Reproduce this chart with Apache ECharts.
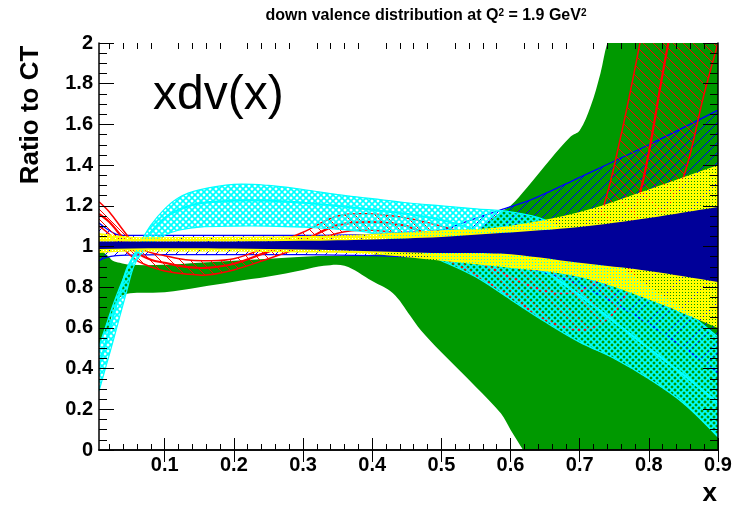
<!DOCTYPE html>
<html>
<head>
<meta charset="utf-8">
<script src="https://cdn.jsdelivr.net/npm/echarts@6/dist/echarts.min.js"></script>
<style>
  html, body { margin: 0; padding: 0; background: #fff; }
  #c { width: 736px; height: 505px; }
</style>
</head>
<body>
<div id="c"></div>
<script>
const FONT = '"Liberation Sans", Arial, Helvetica, sans-serif';

// ---- axis ticks ----
const xMajorTicks = [0.1, 0.2, 0.3, 0.4, 0.5, 0.6, 0.7, 0.8, 0.9];
const xMinorTicks = [0.02, 0.04, 0.06, 0.08, 0.12, 0.14, 0.16, 0.18, 0.22, 0.24, 0.26, 0.28,
  0.32, 0.34, 0.36, 0.38, 0.42, 0.44, 0.46, 0.48, 0.52, 0.54, 0.56, 0.58,
  0.62, 0.64, 0.66, 0.68, 0.72, 0.74, 0.76, 0.78, 0.82, 0.84, 0.86, 0.88];

// ---- green band ----
const greenX  = [0.005, 0.012, 0.019, 0.025, 0.035, 0.05, 0.1, 0.15, 0.2, 0.25, 0.3, 0.33, 0.36, 0.4, 0.43, 0.455, 0.47, 0.5, 0.55, 0.586, 0.6, 0.624, 0.658, 0.687, 0.7, 0.716, 0.73, 0.74, 0.8, 0.9];
const greenLo = [0.5, 0.57, 0.6, 0.68, 0.75, 0.77, 0.775, 0.8, 0.827, 0.852, 0.885, 0.905, 0.905, 0.83, 0.77, 0.66, 0.59, 0.48, 0.31, 0.18, 0.1, -0.03, -0.2, -0.33, -0.38, -0.45, -0.5, -0.55, -0.8, -1.0];
const greenHi = [1.0, 0.97, 0.95, 0.93, 0.92, 0.91, 0.91, 0.92, 0.93, 0.94, 0.95, 0.953, 0.955, 0.96, 0.97, 0.98, 0.99, 1.02, 1.08, 1.17, 1.2, 1.29, 1.43, 1.54, 1.57, 1.69, 1.85, 2.0, 2.6, 3.0];

// ---- blue hatched band ----
const blueX   = [0.005, 0.015, 0.03, 0.05, 0.1, 0.2, 0.3, 0.4, 0.45, 0.5, 0.53, 0.586, 0.63, 0.7, 0.8, 0.9];
const blueHi  = [1.115, 1.09, 1.06, 1.055, 1.055, 1.055, 1.055, 1.06, 1.07, 1.08, 1.115, 1.18, 1.23, 1.34, 1.5, 1.67];
const blueMid = [1.02, 1.012, 1.006, 1.005, 1.005, 1.005, 1.005, 1.007, 1.01, 1.012, 1.02, 1.04, 1.06, 1.07, 1.06, 1.03];
const blueLo  = [0.93, 0.945, 0.955, 0.958, 0.96, 0.96, 0.96, 0.955, 0.95, 0.945, 0.935, 0.915, 0.89, 0.81, 0.62, 0.38];

// ---- red hatched band ----
const redX   = [0.005, 0.02, 0.04, 0.06, 0.08, 0.1, 0.13, 0.16, 0.2, 0.25, 0.3, 0.35, 0.4, 0.45, 0.5, 0.55, 0.6, 0.65, 0.7, 0.73, 0.76, 0.79, 0.82, 0.85, 0.88, 0.9];
const redHi  = [1.22, 1.17, 1.08, 1.0, 0.97, 0.955, 0.935, 0.93, 0.94, 1.0, 1.07, 1.15, 1.16, 1.14, 1.1, 1.05, 1.0, 0.95, 0.98, 1.15, 1.55, 2.05, 2.6, 3.0, 3.5, 4.0];
const redMid = [1.16, 1.12, 1.04, 0.97, 0.935, 0.92, 0.9, 0.895, 0.915, 0.975, 1.03, 1.105, 1.12, 1.1, 1.02, 0.93, 0.85, 0.78, 0.78, 0.85, 1.0, 1.3, 1.85, 2.4, 2.9, 3.3];
const redLo  = [1.10, 1.06, 0.99, 0.93, 0.90, 0.88, 0.865, 0.86, 0.885, 0.94, 1.0, 1.065, 1.08, 1.05, 0.95, 0.86, 0.755, 0.64, 0.59, 0.62, 0.72, 0.95, 1.15, 1.34, 1.75, 2.0];

// ---- cyan cross-hatched band ----
const cyanX   = [0.005, 0.015, 0.025, 0.035, 0.045, 0.055, 0.065, 0.08, 0.1, 0.12, 0.15, 0.2, 0.25, 0.3, 0.35, 0.4, 0.45, 0.5, 0.55, 0.6, 0.65, 0.7, 0.75, 0.8, 0.85, 0.9];
const cyanHi  = [0.51, 0.61, 0.71, 0.80, 0.88, 0.955, 1.02, 1.105, 1.185, 1.24, 1.278, 1.305, 1.3, 1.28, 1.255, 1.235, 1.215, 1.2, 1.185, 1.17, 1.13, 1.03, 0.92, 0.8, 0.69, 0.555];
const cyanMid = [0.41, 0.53, 0.65, 0.77, 0.885, 0.95, 0.995, 1.07, 1.14, 1.18, 1.212, 1.225, 1.225, 1.215, 1.2, 1.18, 1.16, 1.13, 1.08, 1.0, 0.88, 0.76, 0.63, 0.5, 0.37, 0.23];
const cyanLo  = [0.29, 0.41, 0.53, 0.655, 0.78, 0.9, 0.96, 1.01, 1.055, 1.08, 1.095, 1.1, 1.1, 1.095, 1.085, 1.065, 1.0, 0.93, 0.85, 0.74, 0.63, 0.53, 0.45, 0.35, 0.23, 0.064];

// ---- yellow dotted band ----
const yellowX  = [0.005, 0.05, 0.1, 0.2, 0.3, 0.4, 0.5, 0.586, 0.7, 0.8, 0.9];
const yellowHi = [1.066, 1.048, 1.046, 1.048, 1.052, 1.062, 1.08, 1.096, 1.17, 1.28, 1.40];
const yellowLo = [0.968, 0.975, 0.975, 0.975, 0.97, 0.962, 0.93, 0.9, 0.85, 0.74, 0.6];

// ---- navy band ----
const navyX  = [0.005, 0.1, 0.2, 0.3, 0.4, 0.5, 0.586, 0.7, 0.8, 0.9];
const navyHi = [1.025, 1.024, 1.025, 1.028, 1.035, 1.047, 1.066, 1.096, 1.14, 1.194];
const navyLo = [0.988, 0.991, 0.99, 0.985, 0.977, 0.968, 0.965, 0.92, 0.88, 0.826];

// ---- fill patterns ----
function hatch(color, size, dirs, lw) {
  const c = document.createElement('canvas');
  c.width = c.height = size;
  const g = c.getContext('2d');
  g.strokeStyle = color;
  g.lineWidth = lw;
  g.beginPath();
  dirs.forEach(function (d) {
    for (let k = -1; k <= 1; k++) {
      if (d === '/') { g.moveTo(k * size, size); g.lineTo(k * size + size, 0); }
      else { g.moveTo(k * size, 0); g.lineTo(k * size + size, size); }
    }
  });
  g.stroke();
  return { image: c, repeat: 'repeat' };
}
function dots(color) {
  const c = document.createElement('canvas');
  c.width = c.height = 3;
  const g = c.getContext('2d');
  g.fillStyle = color;
  g.fillRect(0, 0, 3, 3);
  g.clearRect(1, 1, 1, 1);
  return { image: c, repeat: 'repeat' };
}

const GREEN = '#009900', NAVY = '#000099', CYAN = '#00ffff', RED = '#ff0000', BLUE = '#0000ff', YELLOW = '#ffff00';

function band(xs, lo, hi, fill, lines) {
  return {
    type: 'custom',
    xAxisIndex: 0, yAxisIndex: 0,
    silent: true,
    clip: true,
    data: [[0.45, 1]],
    renderItem: function (params, api) {
      const cs = params.coordSys;
      const n = xs.length;
      const up = xs.map(function (x, i) { return api.coord([x, hi[i]]); });
      const dn = xs.map(function (x, i) { return api.coord([x, lo[i]]); });
      const pts = [up[0]].concat(up, [up[n - 1], dn[n - 1]], dn.slice().reverse(), [dn[0]]);
      const children = [{
        type: 'polygon',
        shape: { points: pts, smooth: 0.35 },
        style: { fill: fill, stroke: null }
      }];
      lines.forEach(function (l) {
        children.push({
          type: 'polyline',
          shape: { points: xs.map(function (x, i) { return api.coord([x, l.ys[i]]); }), smooth: 0.35 },
          style: { stroke: l.color, lineWidth: l.width, fill: null }
        });
      });
      return {
        type: 'group',
        clipPath: { type: 'rect', shape: { x: cs.x, y: cs.y, width: cs.width, height: cs.height } },
        children: children
      };
    }
  };
}

const series = [
  band(greenX, greenLo, greenHi, GREEN, []),
  band(blueX, blueLo, blueHi, hatch(BLUE, 10, ['/'], 1), [
    { ys: blueLo, color: BLUE, width: 1.3 },
    { ys: blueHi, color: BLUE, width: 1.3 },
    { ys: blueMid, color: BLUE, width: 1.5 }
  ]),
  band(redX, redLo, redHi, hatch(RED, 10, ['\\'], 1), [
    { ys: redLo, color: RED, width: 1.5 },
    { ys: redHi, color: RED, width: 1.5 },
    { ys: redMid, color: RED, width: 2.2 }
  ]),
  band(cyanX, cyanLo, cyanHi, hatch(CYAN, 6, ['/', '\\'], 1.7), [
    { ys: cyanLo, color: CYAN, width: 1.2 },
    { ys: cyanHi, color: CYAN, width: 1.2 },
    { ys: cyanMid, color: CYAN, width: 2.2 }
  ]),
  band(yellowX, yellowLo, yellowHi, dots(YELLOW), []),
  band(navyX, navyLo, navyHi, NAVY, [])
];

const gridRect = { left: 99, top: 43, width: 619, height: 407 };
const tickLine = { color: '#000', width: 1 };
const frameLine = { show: true, lineStyle: { color: '#000', width: 1.5 } };

const option = {
  animation: false,
  backgroundColor: '#fff',
  grid: [Object.assign({}, gridRect), Object.assign({}, gridRect)],
  xAxis: [
    { gridIndex: 0, type: 'value', min: 0.005, max: 0.9, position: 'bottom', z: 10,
      axisLine: frameLine, splitLine: { show: false },
      axisTick: { show: true, inside: true, length: 12, customValues: xMajorTicks, lineStyle: tickLine },
      axisLabel: { show: true, customValues: xMajorTicks, margin: 5, color: '#000',
        fontFamily: FONT, fontWeight: 'bold', fontSize: 20 } },
    { gridIndex: 0, type: 'value', min: 0.005, max: 0.9, position: 'top', z: 10,
      axisLine: frameLine, splitLine: { show: false },
      axisTick: { show: true, inside: true, length: 12, customValues: xMajorTicks, lineStyle: tickLine },
      axisLabel: { show: false } },
    { gridIndex: 1, type: 'value', min: 0.005, max: 0.9, position: 'bottom', z: 10,
      axisLine: { show: false }, splitLine: { show: false },
      axisTick: { show: true, inside: true, length: 6, customValues: xMinorTicks, lineStyle: tickLine },
      axisLabel: { show: false } },
    { gridIndex: 1, type: 'value', min: 0.005, max: 0.9, position: 'top', z: 10,
      axisLine: { show: false }, splitLine: { show: false },
      axisTick: { show: true, inside: true, length: 6, customValues: xMinorTicks, lineStyle: tickLine },
      axisLabel: { show: false } }
  ],
  yAxis: [
    { gridIndex: 0, type: 'value', min: 0, max: 2, interval: 0.2, position: 'left', z: 10,
      axisLine: frameLine, splitLine: { show: false },
      axisTick: { show: true, inside: true, length: 15, lineStyle: tickLine },
      minorTick: { show: true, splitNumber: 4, length: 8, lineStyle: tickLine },
      axisLabel: { show: true, margin: 6, color: '#000', fontFamily: FONT, fontWeight: 'bold', fontSize: 20 } },
    { gridIndex: 0, type: 'value', min: 0, max: 2, interval: 0.2, position: 'right', z: 10,
      axisLine: frameLine, splitLine: { show: false },
      axisTick: { show: true, inside: true, length: 15, lineStyle: tickLine },
      minorTick: { show: true, splitNumber: 4, length: 8, lineStyle: tickLine },
      axisLabel: { show: false } },
    { gridIndex: 1, type: 'value', min: 0, max: 2, show: false }
  ],
  graphic: [
    { type: 'text', x: 426, y: 16, z: 100, silent: true,
      style: { text: 'down valence distribution at Q{s|2} = 1.9 GeV{s|2}',
        font: 'bold 16px ' + FONT, fill: '#000', align: 'center', verticalAlign: 'middle',
        rich: { s: { fontSize: 10, fontWeight: 'bold', fontFamily: FONT, verticalAlign: 'top' } } } },
    { type: 'text', x: 31, y: 115, rotation: Math.PI / 2, z: 100, silent: true,
      style: { text: 'Ratio to CT', font: 'bold 26px ' + FONT, fill: '#000', align: 'center', verticalAlign: 'middle' } },
    { type: 'text', x: 717, y: 494, z: 100, silent: true,
      style: { text: 'x', font: 'bold 26px ' + FONT, fill: '#000', align: 'right', verticalAlign: 'middle' } },
    { type: 'text', x: 153, y: 96, z: 100, silent: true,
      style: { text: 'xdv(x)', font: '48px ' + FONT, fill: '#000', align: 'left', verticalAlign: 'middle' } }
  ],
  series: series
};

const chart = echarts.init(document.getElementById('c'), null, { renderer: 'canvas', width: 736, height: 505 });
chart.setOption(option);
</script>
</body>
</html>
